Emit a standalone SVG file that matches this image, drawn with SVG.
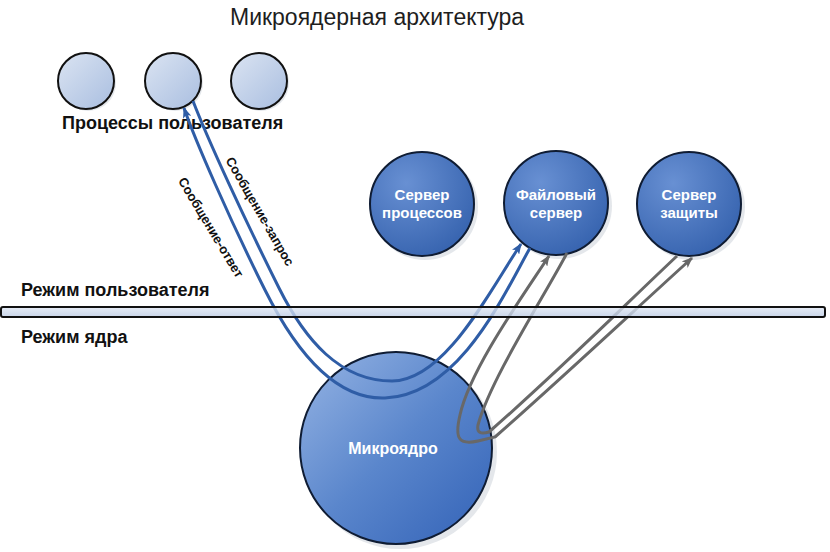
<svg xmlns="http://www.w3.org/2000/svg" width="830" height="552" viewBox="0 0 830 552">
<defs>
<style>
.title{font-family:"Liberation Sans",Arial,sans-serif;font-size:23px;fill:#1e1e1e}
.lbl{font-family:"Liberation Sans",Arial,sans-serif;font-size:18px;font-weight:bold;fill:#111}
.msg{font-family:"Liberation Sans",Arial,sans-serif;font-size:13px;font-weight:bold;fill:#111}
.wt{font-family:"Liberation Sans",Arial,sans-serif;font-size:15px;font-weight:bold;fill:#fff;text-anchor:middle}
.small{fill:url(#gSmall);stroke:#111;stroke-width:2}
.srv{fill:url(#gSrv);stroke:#0f1c33;stroke-width:2}
.shadow{fill:#d9dde3;opacity:0.7}
.blue{fill:none;stroke:#2f5da6;stroke-width:3}
.gray{fill:none;stroke:#686868;stroke-width:3}
</style>
<linearGradient id="gSmall" x1="0" y1="0" x2="1" y2="1">
<stop offset="0" stop-color="#dbe4f2"/>
<stop offset="1" stop-color="#a9bee0"/>
</linearGradient>
<radialGradient id="gSrv" cx="0.35" cy="0.3" r="0.8">
<stop offset="0" stop-color="#6890d3"/>
<stop offset="1" stop-color="#3461ad"/>
</radialGradient>
<linearGradient id="gKern" x1="0.1" y1="0.1" x2="0.9" y2="0.9">
<stop offset="0" stop-color="#8aabdf"/>
<stop offset="0.5" stop-color="#5a86cc"/>
<stop offset="1" stop-color="#3a69bb"/>
</linearGradient>
<linearGradient id="gBar" x1="0" y1="0" x2="0" y2="1">
<stop offset="0" stop-color="#dfe7f3"/>
<stop offset="1" stop-color="#bccbe4"/>
</linearGradient>
<marker id="aBlue" viewBox="0 0 10 8" refX="9" refY="4" markerUnits="userSpaceOnUse" markerWidth="11" markerHeight="9" orient="auto-start-reverse">
<path d="M0,0 L10,4 L0,8 L2.5,4 z" fill="#2f5da6"/>
</marker>
<marker id="aGray" viewBox="0 0 10 8" refX="9" refY="4" markerUnits="userSpaceOnUse" markerWidth="11" markerHeight="9" orient="auto-start-reverse">
<path d="M0,0 L10,4 L0,8 L2.5,4 z" fill="#686868"/>
</marker>
</defs>
<rect width="830" height="552" fill="#ffffff"/>
<text class="title" x="230" y="25">Микроядерная архитектура</text>

<g id="proc1"><circle class="shadow" cx="88" cy="83" r="28"/><circle class="small" cx="86" cy="81" r="28"/></g>
<g id="proc2"><circle class="shadow" cx="175" cy="83" r="28"/><circle class="small" cx="173" cy="81" r="28"/></g>
<g id="proc3"><circle class="shadow" cx="261" cy="83" r="28"/><circle class="small" cx="259" cy="81" r="28"/></g>
<text class="lbl" x="62" y="129">Процессы пользователя</text>

<g id="srv-proc"><circle class="shadow" cx="425" cy="207" r="53"/><circle class="srv" cx="422" cy="204" r="52"/>
<text class="wt" x="422" y="200">Сервер</text><text class="wt" x="422" y="218">процессов</text></g>
<g id="srv-file"><circle class="shadow" cx="559" cy="206" r="53"/><circle class="srv" cx="556" cy="203" r="52"/>
<text class="wt" x="556" y="200">Файловый</text><text class="wt" x="556" y="218">сервер</text></g>
<g id="srv-sec"><circle class="shadow" cx="692" cy="207" r="53"/><circle class="srv" cx="689" cy="204" r="52"/>
<text class="wt" x="689" y="200">Сервер</text><text class="wt" x="689" y="218">защиты</text></g>

<g id="kernel"><circle class="shadow" cx="400" cy="452" r="97"/><circle cx="396" cy="448" r="96" fill="url(#gKern)" stroke="#0f1c33" stroke-width="2"/>
<text class="wt" x="393" y="454" style="font-size:16px">Микроядро</text></g>

<g id="connectors">
<path class="blue" d="M530,248 C505,292 460,395 385,398 C330,400 290,340 265,290 C230,220 195,140 184,108" marker-end="url(#aBlue)"/>
<path class="blue" d="M193,101 C208,140 245,220 279,288 C305,340 340,381 392,381 C445,381 490,290 521,244" marker-end="url(#aBlue)"/>
<path class="gray" d="M549,256 C520,300 470,370 460,415 C454,440 460,445 478,441 L495,437 C560,380 640,305 692,258" marker-start="url(#aGray)" marker-end="url(#aGray)"/>
<path class="gray" d="M567,253 C545,295 490,380 478,425 Q476,436 489,432 C560,370 630,300 677,256"/>
<text class="msg" transform="translate(210,228) rotate(59)" text-anchor="middle" dominant-baseline="middle">Сообщение-ответ</text>
<text class="msg" transform="translate(259,212) rotate(60)" text-anchor="middle" dominant-baseline="middle">Сообщение-запрос</text>
</g>

<g id="mode-bar">
<rect x="1" y="307" width="824" height="10" rx="2" fill="url(#gBar)" fill-opacity="0.8" stroke="#111" stroke-width="2"/>
</g>
<text class="lbl" x="21" y="296">Режим пользователя</text>
<text class="lbl" x="21" y="343">Режим ядра</text>
</svg>
